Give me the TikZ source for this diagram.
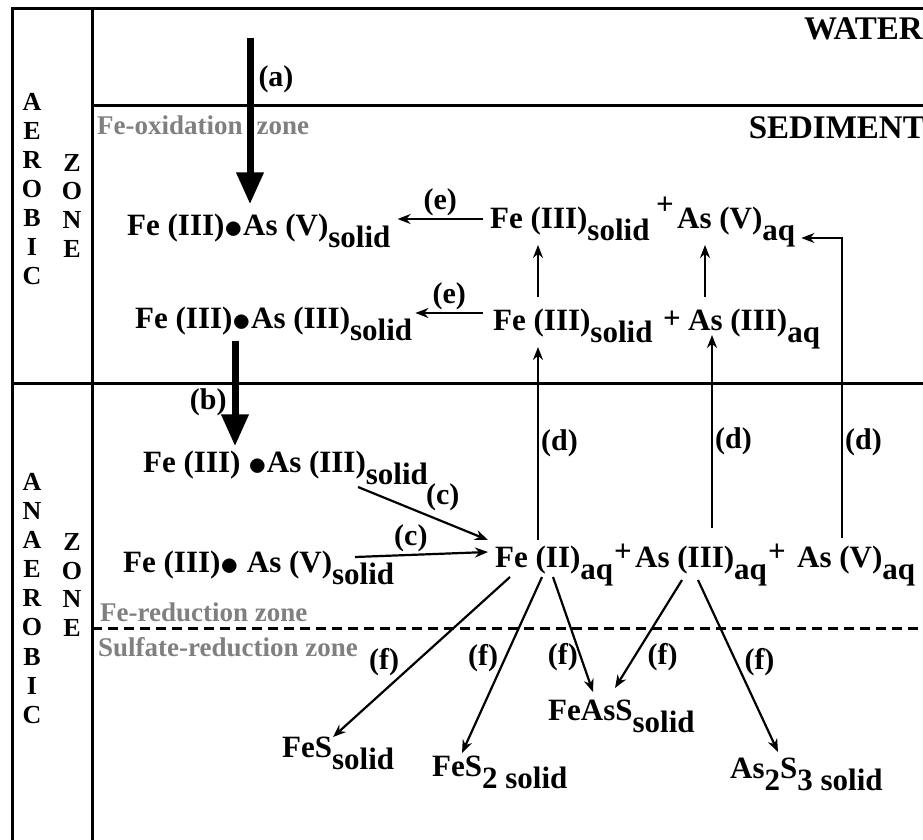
\documentclass[tikz,border=0pt]{standalone}
\usepackage{fontspec}
\setmainfont{Liberation Serif}
\usetikzlibrary{arrows.meta}
\definecolor{zonegray}{RGB}{128,128,128}
\newcommand{\chemfont}{\fontsize{31}{36}\selectfont\bfseries}
\newcommand{\tagfont}{\fontsize{30}{34}\selectfont\bfseries}
\newcommand{\zonefont}{\fontsize{27}{32}\selectfont\bfseries}
\newcommand{\sidefont}{\fontsize{26}{30}\selectfont\bfseries}
\newcommand{\titlefont}{\fontsize{33}{38}\selectfont\bfseries}
\newcommand{\lowsub}[1]{\raisebox{-0.4em}{#1}}
\newcommand{\bul}{\raisebox{-0.1em}{\scalebox{1.5}{$\bullet$}}}
\tikzset{
  chem/.style={anchor=base west, inner sep=0pt, font=\chemfont},
  plus/.style={inner sep=0pt, font=\chemfont},
  tag/.style={inner sep=2pt, font=\tagfont},
  zonetxt/.style={anchor=west, inner sep=0pt, text=zonegray, font=\zonefont},
  side/.style={inner sep=0pt, font=\sidefont},
  frame/.style={line width=3pt},
  thinarrow/.style={line width=2.2pt, -{Stealth[length=13pt,width=10pt]}},
  bigarrow/.style={line width=7pt, -{Triangle[length=32pt,width=26pt]}},
}
\begin{document}
\begin{tikzpicture}[x=1pt,y=-1pt]
  \useasboundingbox (0,0) rectangle (923,840);
  % frame and zone lines
  \draw[frame] (12,840) -- (12,9) -- (923,9);
  \draw[frame] (92,9) -- (92,840);
  \draw[frame] (92,106) -- (923,106);
  \draw[frame] (12,383) -- (923,383);
  \draw[frame, dash pattern=on 10pt off 6pt] (92,628) -- (923,628);
  % side letters
  \foreach \ch [count=\i from 0] in {A,E,R,O,B,I,C}
    \node[side] (aer\i) at (32,102+29*\i) {\ch};
  \foreach \ch [count=\i from 0] in {Z,O,N,E}
    \node[side] (aez\i) at (72,163+28.5*\i) {\ch};
  \foreach \ch [count=\i from 0] in {A,N,A,E,R,O,B,I,C}
    \node[side] (ana\i) at (32,482+29.1*\i) {\ch};
  \foreach \ch [count=\i from 0] in {Z,O,N,E}
    \node[side] (anz\i) at (72,542+28.7*\i) {\ch};
  % titles and zone names
  \node[anchor=base east, inner sep=0pt, font=\titlefont] (water) at (923,40) {WATER};
  \node[anchor=base east, inner sep=0pt, font=\titlefont] (sediment) at (925,139) {SEDIMENT};
  \node[zonetxt] (oxzone) at (97,125) {Fe-oxidation\hspace{14pt}zone};
  \node[zonetxt] (redzone) at (100,612) {Fe-reduction zone};
  \node[zonetxt] (sulzone) at (98,647) {Sulfate-reduction zone};
  % aerobic species
  \node[chem] (asVsolA) at (127,235) {Fe (III)\bul As (V)\lowsub{solid}};
  \node[chem] (feIIIsolA) at (490,228) {Fe (III)\lowsub{solid}};
  \node[plus] (plusA) at (665,206) {+};
  \node[chem] (asVaqA) at (677,228) {As (V)\lowsub{aq}};
  \node[chem] (asIIIsolA) at (135,328) {Fe (III)\bul As (III)\lowsub{solid}};
  \node[chem] (feIIIsolB) at (493,330) {Fe (III)\lowsub{solid}};
  \node[plus] (plusB) at (672,320) {+};
  \node[chem] (asIIIaqB) at (688,330) {As (III)\lowsub{aq}};
  % anaerobic species
  \node[chem] (asIIIsolC) at (143,472) {Fe (III) \bul As (III)\lowsub{solid}};
  \node[chem] (asVsolC) at (123,572) {Fe (III)\bul\ As (V)\lowsub{solid}};
  \node[chem] (feIIaq) at (495,567) {Fe (II)\lowsub{aq}};
  \node[plus] (plusC) at (623,553) {+};
  \node[chem] (asIIIaq) at (635,567) {As (III)\lowsub{aq}};
  \node[plus] (plusD) at (777,553) {+};
  \node[chem] (asVaq) at (797,567) {As (V)\lowsub{aq}};
  % sulfide products
  \node[chem] (fes) at (282,757) {FeS\lowsub{solid}};
  \node[chem] (fes2) at (432,776) {FeS\lowsub{2 solid}};
  \node[chem] (feass) at (548,720) {FeAsS\lowsub{solid}};
  \node[chem] (as2s3) at (730,778) {As\lowsub{2}S\lowsub{3 solid}};
  % (a) and (b)
  \coordinate (srcA) at (250,38);
  \draw[bigarrow] (srcA) -- ([yshift=9pt]srcA |- asVsolA.north)
    node[tag, right=3pt, pos=0.25] (la) {(a)};
  \draw[bigarrow] ([xshift=100pt]asIIIsolA.south west) -- ([xshift=92pt,yshift=4pt]asIIIsolC.north west)
    node[tag, left=3pt, pos=0.58] (lb) {(b)};
  % (e)
  \draw[thinarrow] ([xshift=-7pt,yshift=9pt]feIIIsolA.base west) -- ([xshift=7pt,yshift=9pt]feIIIsolA.base west -| asVsolA.east)
    node[tag, above, midway] (le1) {(e)};
  \draw[thinarrow] ([xshift=-10pt,yshift=17pt]feIIIsolB.base west) -- ([xshift=3pt,yshift=17pt]feIIIsolB.base west -| asIIIsolA.east)
    node[tag, above, midway] (le2) {(e)};
  % row to row
  \draw[thinarrow] ([xshift=45pt,yshift=33pt]feIIIsolB.base west) -- ([xshift=48pt,yshift=-17pt]feIIIsolA.base west);
  \draw[thinarrow] ([xshift=17pt,yshift=33pt]asIIIaqB.base west) -- ([xshift=28pt,yshift=-17pt]asVaqA.base west);
  % (d)
  \draw[thinarrow] ([xshift=43pt,yshift=27pt]feIIaq.base west) -- ([xshift=45pt,yshift=-17pt]feIIIsolB.base west)
    node[tag, right, pos=0.5] (ld1) {(d)};
  \draw[thinarrow] ([xshift=77pt,yshift=39pt]asIIIaq.base west) -- ([xshift=24pt,yshift=-5pt]asIIIaqB.base west)
    node[tag, right, pos=0.45] (ld2) {(d)};
  \draw[thinarrow] ([xshift=45pt,yshift=29pt]asVaq.base west) |- ([xshift=6pt,yshift=-10pt]asVaqA.base east)
    node[tag, right, pos=0.16] (ld3) {(d)};
  % (c)
  \draw[thinarrow] ([xshift=215pt,yshift=-15pt]asIIIsolC.base west) -- ([xshift=-7pt,yshift=27pt]feIIaq.base west)
    node[tag, above right, pos=0.5] (lc1) {(c)};
  \draw[thinarrow] ([xshift=232pt,yshift=15pt]asVsolC.base west) -- ([xshift=-7pt,yshift=15pt]feIIaq.base west)
    node[tag, above, pos=0.42] (lc2) {(c)};
  % (f)
  \draw[thinarrow] ([xshift=15pt,yshift=-10pt]feIIaq.base west) -- ([xshift=51pt,yshift=20pt]fes.base west)
    node[tag, left=14pt, pos=0.53] (lf1) {(f)};
  \draw[thinarrow] ([xshift=47pt,yshift=-10pt]feIIaq.base west) -- ([xshift=30pt,yshift=23pt]fes2.base west)
    node[tag, left=4pt, pos=0.46] (lf2) {(f)};
  \draw[thinarrow] ([xshift=58pt,yshift=-10pt]feIIaq.base west) -- ([xshift=45pt,yshift=28pt]feass.base west)
    node[tag, left=0pt, pos=0.7] (lf3) {(f)};
  \draw[thinarrow] ([xshift=47pt,yshift=-13pt]asIIIaq.base west) -- ([xshift=67pt,yshift=32pt]feass.base west)
    node[tag, right=10pt, pos=0.71] (lf4) {(f)};
  \draw[thinarrow] ([xshift=63pt,yshift=-13pt]asIIIaq.base west) -- ([xshift=48pt,yshift=26pt]as2s3.base west)
    node[tag, right=5pt, pos=0.48] (lf5) {(f)};
\end{tikzpicture}
\end{document}
